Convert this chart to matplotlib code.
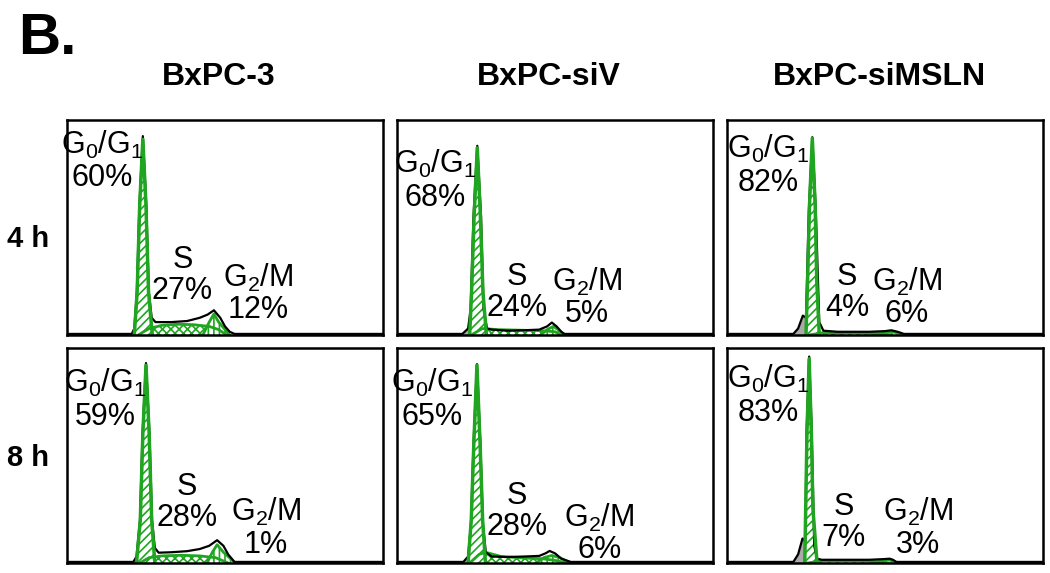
import numpy as np
import matplotlib
matplotlib.use('Agg')
import matplotlib.pyplot as plt

plt.rcParams['font.family'] = ['Liberation Sans', 'DejaVu Sans']
plt.rcParams['hatch.linewidth'] = 1.2

# panels in reading order: 4 h row, then 8 h row
cell_lines = ['BxPC-3', 'BxPC-siV', 'BxPC-siMSLN']
times = ['4 h', '8 h']

g1_pct = ['60%', '68%', '82%', '59%', '65%', '83%']
s_pct = ['27%', '24%', '4%', '28%', '28%', '7%']
g2_pct = ['12%', '5%', '6%', '1%', '6%', '3%']

# black measured histogram (x = channel in % of range, y = % of panel height)
trace_x = [
    [0, 20.5, 21.3, 22.1, 22.9, 24, 25.1, 25.9, 26.8, 28, 33, 38, 42, 44.5, 46.5, 48.5, 50, 51.5, 53, 100],
    [0, 20.7, 22.5, 23.3, 24.2, 25.4, 26.6, 27.4, 28.5, 30, 35, 40, 45, 47.5, 49, 50.5, 52, 53, 100],
    [0, 21, 22.5, 24, 25, 25.9, 27, 28.1, 29.2, 30.5, 35, 45, 50, 52, 54, 56, 100],
    [0, 21, 22, 23.1, 23.9, 25, 26.1, 26.9, 27.8, 29, 33, 38, 42, 45, 47.5, 49.5, 51, 53, 100],
    [0, 21, 22.5, 23.4, 24.2, 25.3, 26.4, 27.2, 28.1, 30, 35, 40, 45, 47, 48.3, 50, 52, 55, 100],
    [0, 21, 22.5, 23.9, 24.8, 25.2, 26, 26.8, 27.6, 28.5, 30, 35, 45, 49.5, 51.5, 52.5, 53.6, 100],
]
trace_y = [
    [0.5, 0.5, 3, 20, 60, 92.5, 60, 20, 8, 6, 6, 6.5, 8, 9.5, 11.5, 8, 4, 1.5, 0.5, 0.5],
    [0.5, 0.5, 3, 12, 55, 88, 55, 12, 3, 2.5, 2, 2.2, 2.5, 4, 5.8, 4, 1.5, 0.5, 0.5],
    [0.5, 0.5, 3, 9, 8, 58, 92, 58, 6, 2, 1.5, 1.5, 1.8, 2.2, 1.5, 0.5, 0.5],
    [0.5, 0.5, 3, 20, 60, 93, 60, 20, 7, 4.8, 5, 5.5, 6.5, 8, 10.6, 8, 4, 0.5, 0.5],
    [0.5, 0.5, 3, 18, 55, 92.5, 55, 18, 5, 3, 2.8, 3, 3.3, 4.5, 5.6, 4.5, 2, 0.5, 0.5],
    [0.5, 0.5, 4, 11.4, 10, 62, 96, 62, 8, 2, 1.5, 1.5, 1.5, 1.8, 2, 1.5, 0.5, 0.5],
]

# fitted G0/G1 peak
g1_x = [
    [21.3, 22.2, 23.0, 24, 25.0, 25.8, 27],
    [23, 23.6, 24.4, 25.4, 26.4, 27.2, 28.3],
    [25, 25.5, 26.1, 27, 27.9, 28.4, 29.2],
    [22, 23.2, 24.0, 25, 26.0, 26.8, 27.8],
    [22.5, 23.5, 24.3, 25.3, 26.3, 27.1, 28],
    [24.6, 24.9, 25.3, 26, 26.7, 27.2, 28.5],
]
g1_y = [
    [0, 20, 60, 91, 60, 20, 0],
    [0, 20, 55, 87, 55, 20, 0],
    [0, 25, 60, 91.5, 60, 25, 0],
    [0, 20, 60, 92, 60, 20, 0],
    [0, 20, 55, 92, 55, 20, 0],
    [0, 25, 60, 95, 60, 25, 0],
]

# fitted S phase
s_x = [
    [22.5, 26, 30, 35, 40, 45, 48, 50.5],
    [23.5, 27, 32, 40, 46, 50, 52],
    [26, 30, 40, 48, 52],
    [23, 26, 30, 36, 42, 47, 51],
    [23, 26, 28, 33, 40, 46, 50, 54],
    [25.5, 30, 40, 46, 51],
]
s_y = [
    [0, 3, 4.5, 5, 4.8, 4, 2.5, 0],
    [0, 3, 2.5, 2.2, 2, 1.5, 0],
    [0, 1, 1, 0.8, 0],
    [0, 2.5, 3.3, 3.6, 3.3, 2.5, 0],
    [0, 4, 5, 3, 2.3, 2, 1.2, 0],
    [0, 1, 1, 0.8, 0],
]

# fitted G2/M peak
g2_x = [
    [43, 45, 46.5, 48, 51.5],
    [45.5, 47.5, 49.5, 51, 53],
    [46, 49, 52, 54, 56],
    [44.3, 46, 47.5, 49.5, 53.3],
    [44, 46.5, 49, 51.5, 55],
    [45.5, 48.5, 51, 52.5, 54],
]
g2_y = [
    [0, 6, 9.8, 6, 0],
    [0, 2.5, 4, 2.5, 0],
    [0, 1, 1.5, 1, 0],
    [0, 5, 8.5, 5, 0],
    [0, 2.5, 3.5, 2.5, 0],
    [0, 1, 1.5, 1, 0],
]

# label placement (x centre, top) in panel %
g1_lab = [(11, 96), (12, 87), (13, 94), (12, 91), (11, 91), (13, 93)]
s_lab = [(36.5, 42), (38, 34), (38, 34), (38, 42.5), (38, 38), (37, 33)]
g2_lab = [(60.6, 34), (60, 32), (57, 32), (63, 31), (64, 28.5), (60.5, 31)]

green = '#1fa51f'

fig = plt.figure(figsize=(10.5, 5.73), dpi=100)

lefts = [67, 397, 727]
tops = [120, 348]
for i in range(6):
    r, c = divmod(i, 3)
    ax = fig.add_axes([lefts[c] / 1050, 1 - (tops[r] + 215) / 573, 316 / 1050, 215 / 573])
    ax.set_xlim(0, 100)
    ax.set_ylim(0, 100)
    ax.set_xticks([])
    ax.set_yticks([])
    for sp in ax.spines.values():
        sp.set_linewidth(1.8)

    tx = np.array(trace_x[i])
    ty = np.array(trace_y[i])
    # grey shoulder left of the G1 fit
    ax.fill_between(tx, 0, ty, where=tx <= g1_x[i][0] + 0.6, color='#aaaaaa', lw=0)

    ax.fill(s_x[i], s_y[i], facecolor='white', edgecolor=green, hatch='xxxx', lw=0)
    ax.plot(s_x[i], s_y[i], color=green, lw=2)
    ax.fill(g2_x[i], g2_y[i], facecolor='white', edgecolor=green, hatch='|||', lw=0)
    ax.plot(g2_x[i], g2_y[i], color=green, lw=2)
    ax.plot(tx, ty, color='black', lw=1.6)
    ax.fill(g1_x[i], g1_y[i], facecolor='white', edgecolor=green, hatch='////', lw=0)
    ax.plot(g1_x[i], g1_y[i], color=green, lw=2.5)

    ax.text(g1_lab[i][0], g1_lab[i][1], 'G$_\\mathregular{0}$/G$_\\mathregular{1}$\n' + g1_pct[i],
            ha='center', va='top', fontsize=22, linespacing=1.12)
    ax.text(s_lab[i][0], s_lab[i][1], 'S\n' + s_pct[i],
            ha='center', va='top', fontsize=22, linespacing=1.05)
    ax.text(g2_lab[i][0], g2_lab[i][1], 'G$_\\mathregular{2}$/M\n' + g2_pct[i],
            ha='center', va='top', fontsize=22, linespacing=1.05)

for c, name in enumerate(cell_lines):
    fig.text((lefts[c] + 152) / 1050, 1 - 77 / 573, name, ha='center', va='center',
             fontsize=23, fontweight='bold')

for r, t in enumerate(times):
    fig.text(28 / 1050, 1 - (239 + r * 219) / 573, t, ha='center', va='center',
             fontsize=21, fontweight='bold')

fig.text(18 / 1050, 1 - 12 / 573, 'B.', ha='left', va='top', fontsize=42, fontweight='bold')

fig.savefig('out.png', dpi=100)
